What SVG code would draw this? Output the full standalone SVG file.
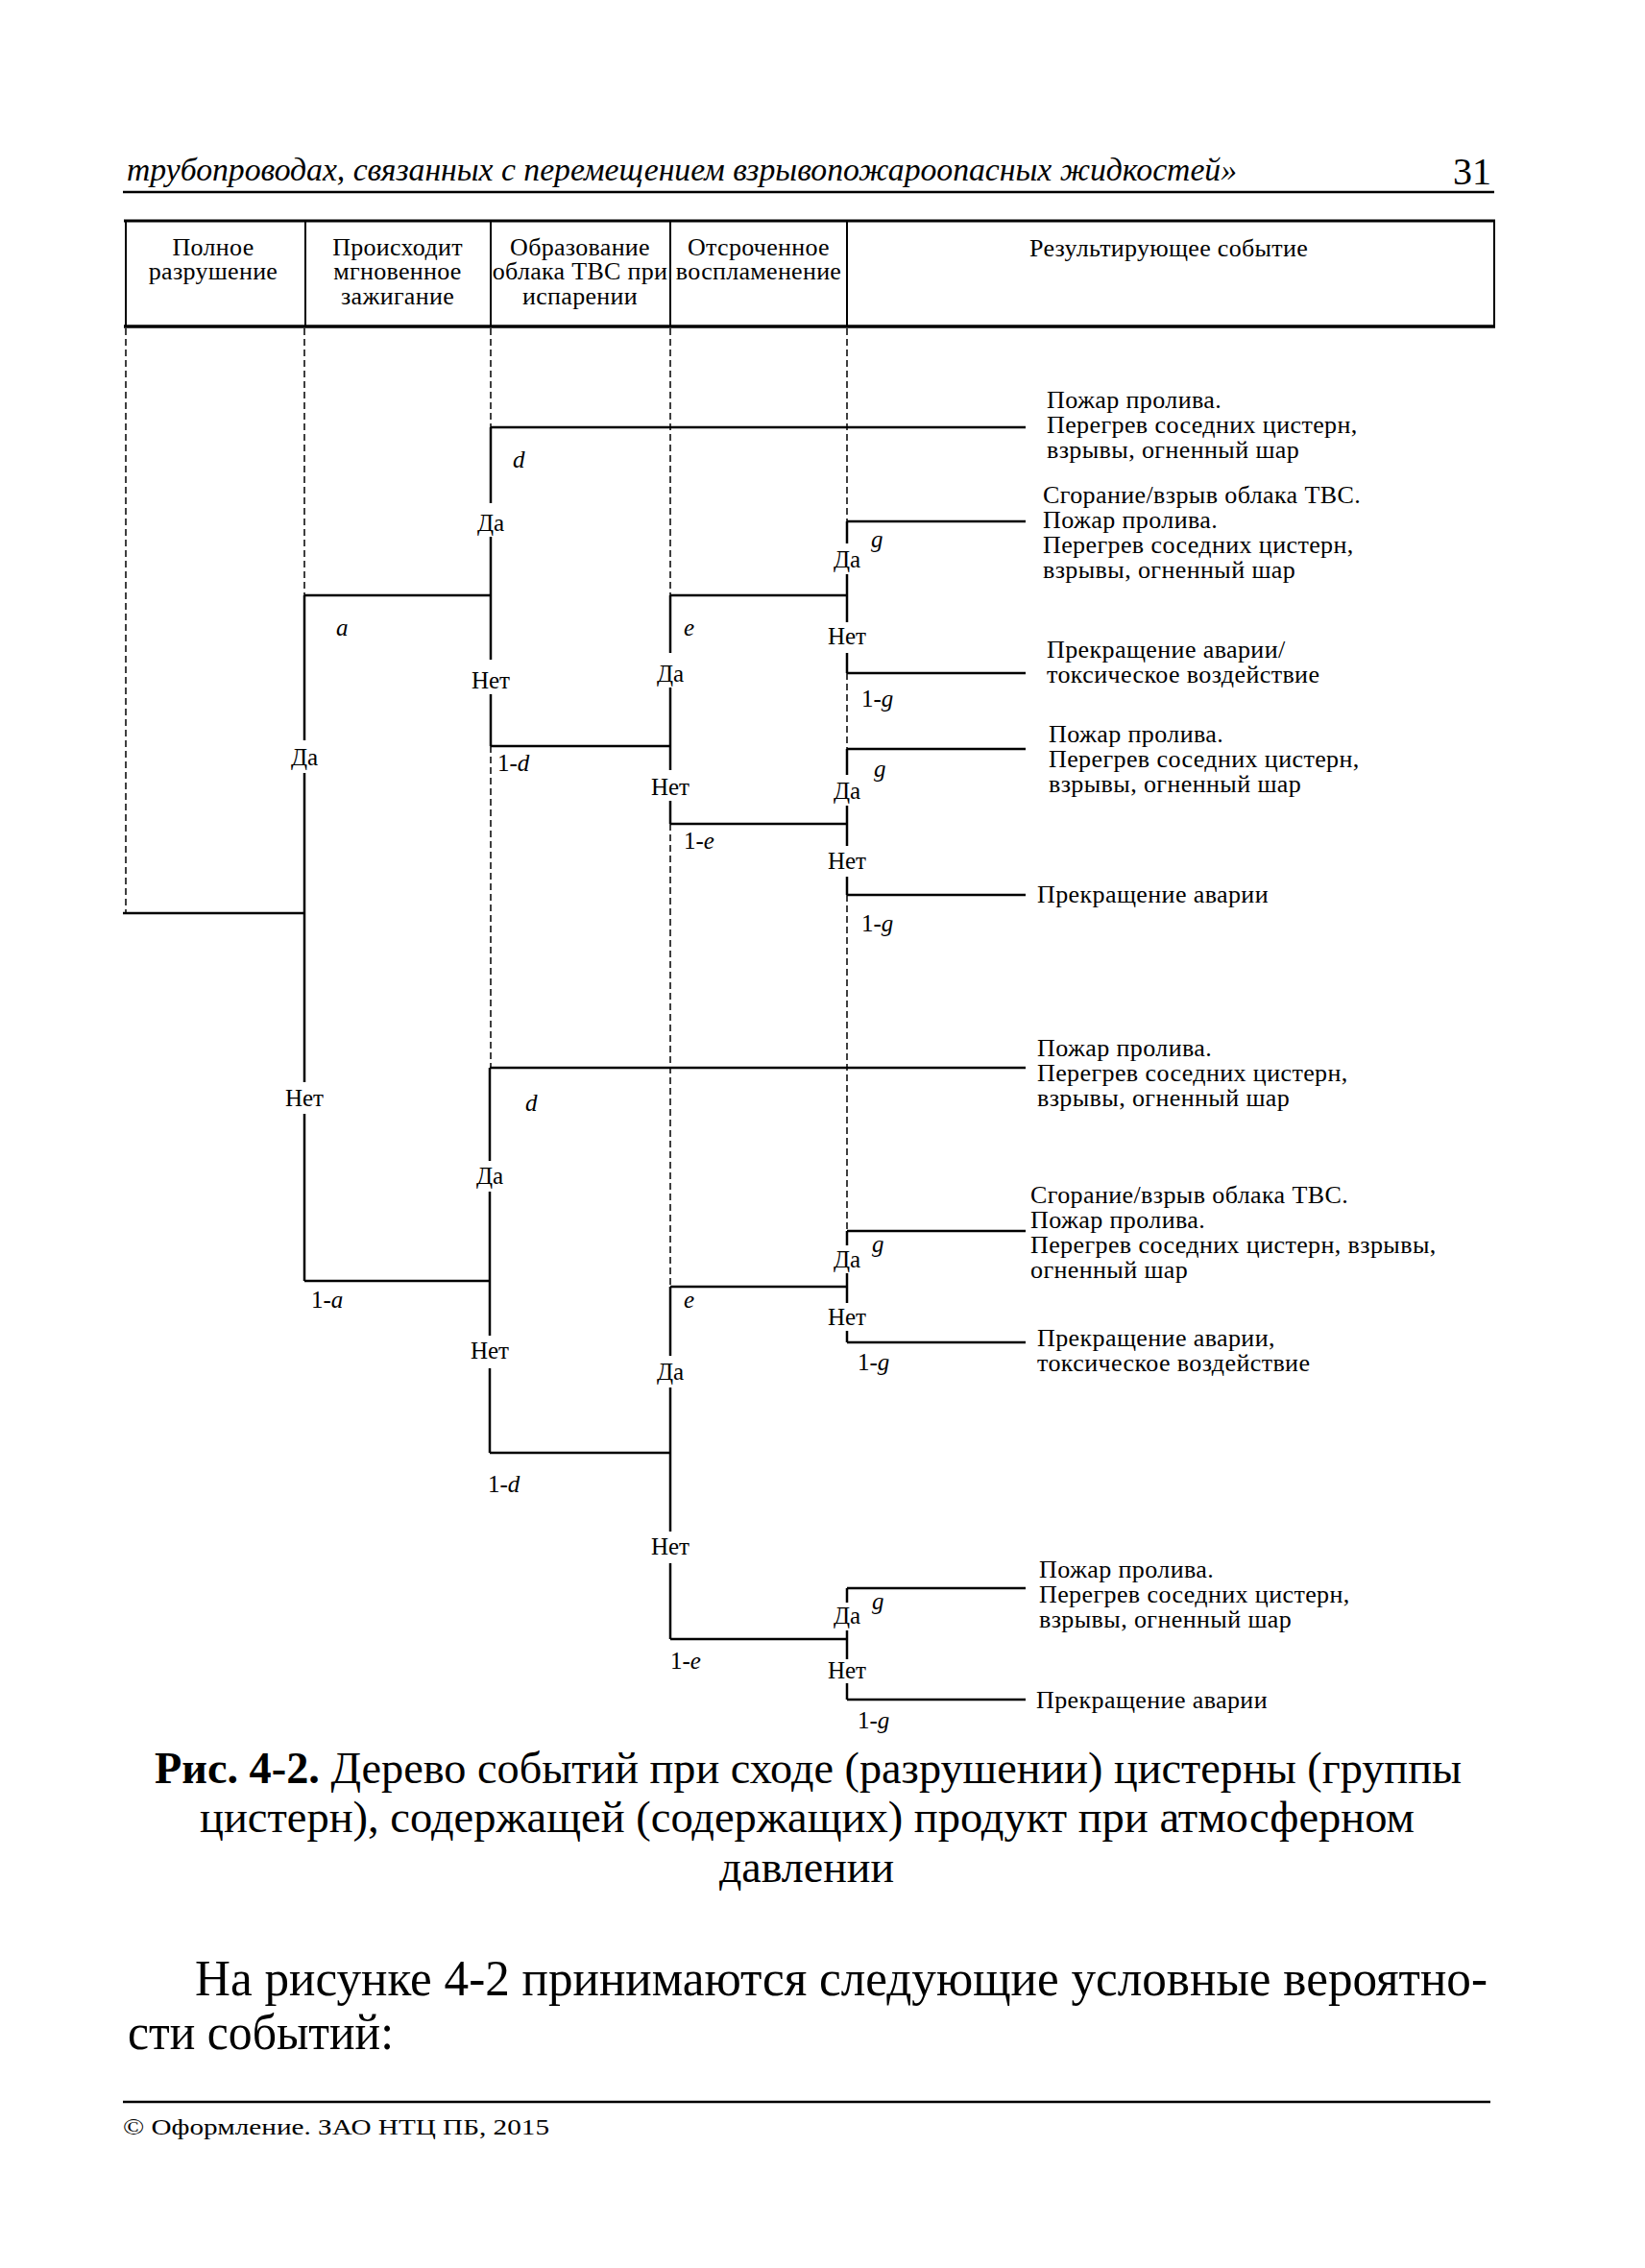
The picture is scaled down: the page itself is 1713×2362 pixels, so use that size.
<svg xmlns="http://www.w3.org/2000/svg" width="1713" height="2362" viewBox="0 0 1713 2362">
<style>
.t{font-family:"Liberation Serif","Times New Roman",serif;fill:#000}
.ln{stroke:#000;stroke-width:2.5;fill:none}
.dash{stroke:#000;stroke-width:1.5;stroke-dasharray:7 4;fill:none}
.bd{stroke:#000;stroke-width:2;fill:none}
.lbl{font-size:25px;text-anchor:middle}
.pr{font-size:25px;font-style:italic}
.pn{font-size:25px}
.res{font-size:26px;letter-spacing:0.4px}
.hd{font-size:26px;letter-spacing:0.3px;text-anchor:middle}
.it{font-style:italic}
</style>
<rect width="1713" height="2362" fill="#fff"/>

<g id="page-header">
<text class="t it" x="132" y="188" font-size="33" textLength="1156" lengthAdjust="spacingAndGlyphs">трубопроводах, связанных с перемещением взрывопожароопасных жидкостей»</text>
<text class="t" x="1513" y="192" font-size="40">31</text>
<line x1="128" y1="200" x2="1556" y2="200" stroke="#000" stroke-width="2.5"/>
</g>

<g id="table-header">
<line x1="129" y1="230" x2="1557" y2="230" stroke="#000" stroke-width="3"/>
<line x1="129" y1="340" x2="1557" y2="340" stroke="#000" stroke-width="3.5"/>
<line class="bd" x1="131" y1="230" x2="131" y2="340"/>
<line class="bd" x1="1556" y1="230" x2="1556" y2="340"/>
<line class="bd" x1="318" y1="230" x2="318" y2="340"/>
<line class="bd" x1="511" y1="230" x2="511" y2="340"/>
<line class="bd" x1="698" y1="230" x2="698" y2="340"/>
<line class="bd" x1="882" y1="230" x2="882" y2="340"/>
<text class="t hd" x="222" y="266">Полное</text>
<text class="t hd" x="222" y="291">разрушение</text>
<text class="t hd" x="414" y="266">Происходит</text>
<text class="t hd" x="414" y="291">мгновенное</text>
<text class="t hd" x="414" y="317">зажигание</text>
<text class="t hd" x="604" y="266">Образование</text>
<text class="t hd" x="604" y="291">облака ТВС при</text>
<text class="t hd" x="604" y="317">испарении</text>
<text class="t hd" x="790" y="266">Отсроченное</text>
<text class="t hd" x="790" y="291">воспламенение</text>
<text class="t hd" x="1217" y="267">Результирующее событие</text>
</g>

<g id="connectors">
<line class="dash" x1="131" y1="342" x2="131" y2="951"/>
<line class="dash" x1="317" y1="342" x2="317" y2="620"/>
<line class="dash" x1="511" y1="342" x2="511" y2="445"/>
<line class="dash" x1="511" y1="777" x2="511" y2="1112"/>
<line class="dash" x1="698" y1="342" x2="698" y2="620"/>
<line class="dash" x1="698" y1="858" x2="698" y2="1340"/>
<line class="dash" x1="882" y1="342" x2="882" y2="543"/>
<line class="dash" x1="882" y1="701" x2="882" y2="780"/>
<line class="dash" x1="882" y1="932" x2="882" y2="1282"/>
<line class="ln" x1="128" y1="951" x2="317" y2="951"/>
<line class="ln" x1="317" y1="620" x2="511" y2="620"/>
<line class="ln" x1="317" y1="1334" x2="510" y2="1334"/>
<line class="ln" x1="511" y1="445" x2="1068" y2="445"/>
<line class="ln" x1="511" y1="777" x2="698" y2="777"/>
<line class="ln" x1="698" y1="620" x2="882" y2="620"/>
<line class="ln" x1="698" y1="858" x2="882" y2="858"/>
<line class="ln" x1="882" y1="543" x2="1068" y2="543"/>
<line class="ln" x1="882" y1="701" x2="1068" y2="701"/>
<line class="ln" x1="882" y1="780" x2="1068" y2="780"/>
<line class="ln" x1="882" y1="932" x2="1068" y2="932"/>
<line class="ln" x1="510" y1="1112" x2="1068" y2="1112"/>
<line class="ln" x1="510" y1="1513" x2="698" y2="1513"/>
<line class="ln" x1="698" y1="1340" x2="882" y2="1340"/>
<line class="ln" x1="698" y1="1707" x2="882" y2="1707"/>
<line class="ln" x1="882" y1="1282" x2="1068" y2="1282"/>
<line class="ln" x1="882" y1="1398" x2="1068" y2="1398"/>
<line class="ln" x1="882" y1="1654" x2="1068" y2="1654"/>
<line class="ln" x1="882" y1="1770" x2="1068" y2="1770"/>
</g>

<g id="node-a">
<line class="ln" x1="317" y1="620" x2="317" y2="771"/>
<line class="ln" x1="317" y1="805" x2="317" y2="1127"/>
<line class="ln" x1="317" y1="1160" x2="317" y2="1334"/>
<text class="t lbl" x="317" y="797">Да</text>
<text class="t lbl" x="317" y="1152">Нет</text>
<text class="t pr" x="350" y="662">a</text>
<text class="t pn" x="324" y="1362">1-<tspan class="it">a</tspan></text>
</g>

<g id="node-d1">
<line class="ln" x1="511" y1="445" x2="511" y2="524"/>
<line class="ln" x1="511" y1="559" x2="511" y2="687"/>
<line class="ln" x1="511" y1="723" x2="511" y2="777"/>
<text class="t lbl" x="511" y="553">Да</text>
<text class="t lbl" x="511" y="717">Нет</text>
<text class="t pr" x="534" y="487">d</text>
<text class="t pn" x="518" y="803">1-<tspan class="it">d</tspan></text>
</g>

<g id="node-e1">
<line class="ln" x1="698" y1="620" x2="698" y2="680"/>
<line class="ln" x1="698" y1="716" x2="698" y2="802"/>
<line class="ln" x1="698" y1="834" x2="698" y2="858"/>
<text class="t lbl" x="698" y="710">Да</text>
<text class="t lbl" x="698" y="828">Нет</text>
<text class="t pr" x="712" y="662">e</text>
<text class="t pn" x="712" y="884">1-<tspan class="it">e</tspan></text>
</g>

<g id="node-g1">
<line class="ln" x1="882" y1="543" x2="882" y2="566"/>
<line class="ln" x1="882" y1="598" x2="882" y2="648"/>
<line class="ln" x1="882" y1="680" x2="882" y2="701"/>
<text class="t lbl" x="882" y="591">Да</text>
<text class="t lbl" x="882" y="671">Нет</text>
<text class="t pr" x="907" y="570">g</text>
<text class="t pn" x="897" y="736">1-<tspan class="it">g</tspan></text>
</g>

<g id="node-g2">
<line class="ln" x1="882" y1="780" x2="882" y2="807"/>
<line class="ln" x1="882" y1="839" x2="882" y2="881"/>
<line class="ln" x1="882" y1="913" x2="882" y2="932"/>
<text class="t lbl" x="882" y="832">Да</text>
<text class="t lbl" x="882" y="905">Нет</text>
<text class="t pr" x="910" y="809">g</text>
<text class="t pn" x="897" y="970">1-<tspan class="it">g</tspan></text>
</g>

<g id="node-d2">
<line class="ln" x1="510" y1="1112" x2="510" y2="1209"/>
<line class="ln" x1="510" y1="1241" x2="510" y2="1391"/>
<line class="ln" x1="510" y1="1425" x2="510" y2="1513"/>
<text class="t lbl" x="510" y="1233">Да</text>
<text class="t lbl" x="510" y="1415">Нет</text>
<text class="t pr" x="547" y="1157">d</text>
<text class="t pn" x="508" y="1554">1-<tspan class="it">d</tspan></text>
</g>

<g id="node-e2">
<line class="ln" x1="698" y1="1340" x2="698" y2="1412"/>
<line class="ln" x1="698" y1="1445" x2="698" y2="1595"/>
<line class="ln" x1="698" y1="1628" x2="698" y2="1707"/>
<text class="t lbl" x="698" y="1437">Да</text>
<text class="t lbl" x="698" y="1619">Нет</text>
<text class="t pr" x="712" y="1362">e</text>
<text class="t pn" x="698" y="1738">1-<tspan class="it">e</tspan></text>
</g>

<g id="node-g3">
<line class="ln" x1="882" y1="1282" x2="882" y2="1297"/>
<line class="ln" x1="882" y1="1326" x2="882" y2="1357"/>
<line class="ln" x1="882" y1="1386" x2="882" y2="1398"/>
<text class="t lbl" x="882" y="1320">Да</text>
<text class="t lbl" x="882" y="1380">Нет</text>
<text class="t pr" x="908" y="1304">g</text>
<text class="t pn" x="893" y="1427">1-<tspan class="it">g</tspan></text>
</g>

<g id="node-g4">
<line class="ln" x1="882" y1="1654" x2="882" y2="1669"/>
<line class="ln" x1="882" y1="1698" x2="882" y2="1728"/>
<line class="ln" x1="882" y1="1753" x2="882" y2="1770"/>
<text class="t lbl" x="882" y="1691">Да</text>
<text class="t lbl" x="882" y="1748">Нет</text>
<text class="t pr" x="908" y="1676">g</text>
<text class="t pn" x="893" y="1800">1-<tspan class="it">g</tspan></text>
</g>

<g id="result-1">
<text class="t res" x="1090" y="425">Пожар пролива.</text>
<text class="t res" x="1090" y="451">Перегрев соседних цистерн,</text>
<text class="t res" x="1090" y="477">взрывы, огненный шар</text>
</g>
<g id="result-2">
<text class="t res" x="1086" y="524">Сгорание/взрыв облака ТВС.</text>
<text class="t res" x="1086" y="550">Пожар пролива.</text>
<text class="t res" x="1086" y="576">Перегрев соседних цистерн,</text>
<text class="t res" x="1086" y="602">взрывы, огненный шар</text>
</g>
<g id="result-3">
<text class="t res" x="1090" y="685">Прекращение аварии/</text>
<text class="t res" x="1090" y="711">токсическое воздействие</text>
</g>
<g id="result-4">
<text class="t res" x="1092" y="773">Пожар пролива.</text>
<text class="t res" x="1092" y="799">Перегрев соседних цистерн,</text>
<text class="t res" x="1092" y="825">взрывы, огненный шар</text>
</g>
<g id="result-5">
<text class="t res" x="1080" y="940">Прекращение аварии</text>
</g>
<g id="result-6">
<text class="t res" x="1080" y="1100">Пожар пролива.</text>
<text class="t res" x="1080" y="1126">Перегрев соседних цистерн,</text>
<text class="t res" x="1080" y="1152">взрывы, огненный шар</text>
</g>
<g id="result-7">
<text class="t res" x="1073" y="1253">Сгорание/взрыв облака ТВС.</text>
<text class="t res" x="1073" y="1279">Пожар пролива.</text>
<text class="t res" x="1073" y="1305">Перегрев соседних цистерн, взрывы,</text>
<text class="t res" x="1073" y="1331">огненный шар</text>
</g>
<g id="result-8">
<text class="t res" x="1080" y="1402">Прекращение аварии,</text>
<text class="t res" x="1080" y="1428">токсическое воздействие</text>
</g>
<g id="result-9">
<text class="t res" x="1082" y="1643">Пожар пролива.</text>
<text class="t res" x="1082" y="1669">Перегрев соседних цистерн,</text>
<text class="t res" x="1082" y="1695">взрывы, огненный шар</text>
</g>
<g id="result-10">
<text class="t res" x="1079" y="1779">Прекращение аварии</text>
</g>

<g id="caption">
<text class="t" x="161" y="1857" font-size="46" textLength="1361" lengthAdjust="spacingAndGlyphs"><tspan font-weight="bold">Рис. 4-2.</tspan> Дерево событий при сходе (разрушении) цистерны (группы</text>
<text class="t" x="208" y="1908" font-size="46" textLength="1265" lengthAdjust="spacingAndGlyphs">цистерн), содержащей (содержащих) продукт при атмосферном</text>
<text class="t" x="840" y="1960" font-size="46" text-anchor="middle">давлении</text>
</g>

<g id="body-text">
<text class="t" x="203" y="2078" font-size="52" textLength="1346" lengthAdjust="spacingAndGlyphs">На рисунке 4-2 принимаются следующие условные вероятно-</text>
<text class="t" x="133" y="2134" font-size="52" textLength="277" lengthAdjust="spacingAndGlyphs">сти событий:</text>
</g>

<g id="footer">
<line x1="128" y1="2189" x2="1552" y2="2189" stroke="#000" stroke-width="2.5"/>
<text class="t" x="128" y="2223" font-size="24" textLength="444" lengthAdjust="spacingAndGlyphs">©  Оформление. ЗАО НТЦ ПБ, 2015</text>
</g>
</svg>
